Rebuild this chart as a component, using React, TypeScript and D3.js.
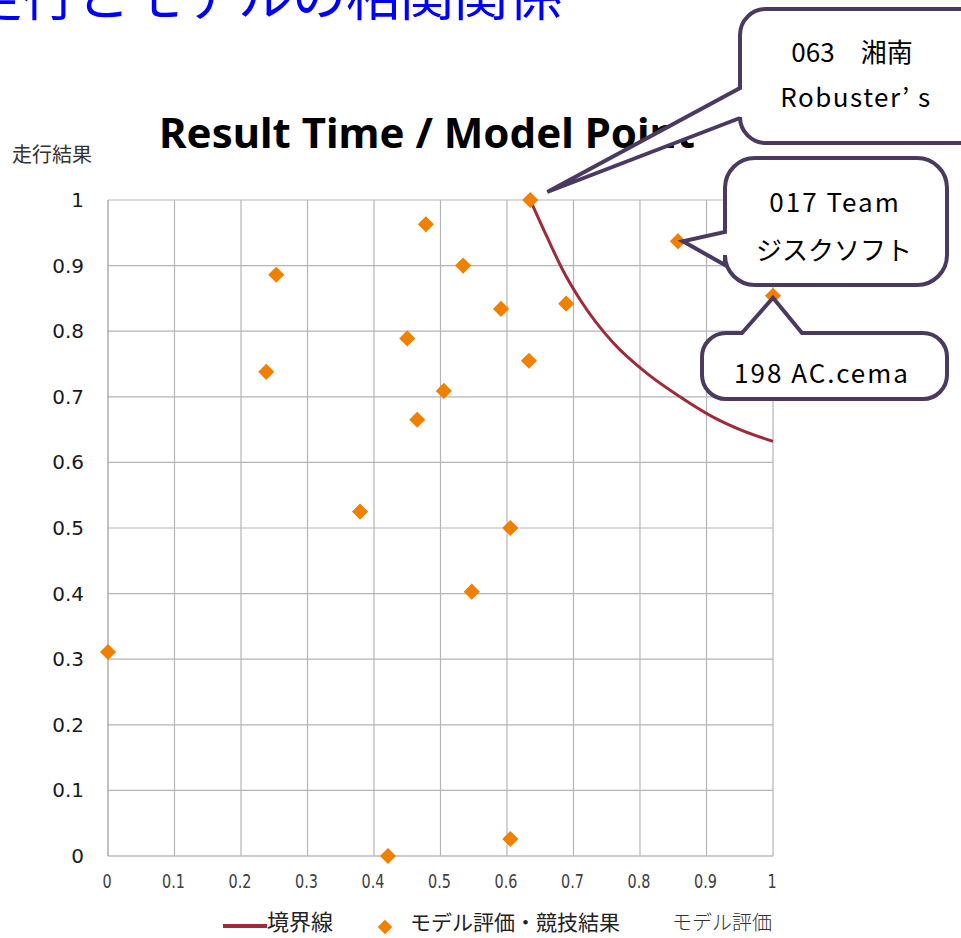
import * as d3 from "d3";

// scatter: model score (x) vs run result (y)
const modelScore = [0.635, 0.478, 0.534, 0.253, 0.591, 0.689, 0.857, 1.0, 0.45, 0.633, 0.238, 0.505, 0.465, 0.379, 0.605, 0.547, 0.0, 0.605, 0.421];
const runResult = [1.0, 0.963, 0.9, 0.886, 0.834, 0.842, 0.937, 0.854, 0.789, 0.755, 0.738, 0.709, 0.665, 0.525, 0.5, 0.403, 0.311, 0.026, 0.0];

// boundary line
const boundaryX = [0.635, 0.66, 0.684, 0.71, 0.76, 0.81, 0.86, 0.91, 0.955, 1.0];
const boundaryY = [1.0, 0.944, 0.893, 0.848, 0.782, 0.736, 0.7, 0.669, 0.648, 0.632];

const tickValues = [0, 0.1, 0.2, 0.3, 0.4, 0.5, 0.6, 0.7, 0.8, 0.9, 1];

const callouts = [
  { lines: ["063\u3000湘南", "Robuster\u2019 s"], point: 0 },
  { lines: ["017 Team", "ジスクソフト"], point: 6 },
  { lines: ["198 AC.cema"], point: 7 },
];

const width = 961;
const height = 938;
const x = d3.scaleLinear().domain([0, 1]).range([108, 773]);
const y = d3.scaleLinear().domain([0, 1]).range([856, 200]);

const orange = "#F08000";
const red = "#9E2A3A";
const purple = "#4A3960";
const cjk = "'Noto Sans CJK JP', sans-serif";

// rounded box with a wedge on the left or top side
function bubble(x0, y0, x1, y1, r, side, a, b, tx, ty) {
  let p = `M${x0 + r},${y0}`;
  if (side === "top") p += ` H${a} L${tx},${ty} L${b},${y0}`;
  p += ` H${x1 - r} A${r},${r} 0 0 1 ${x1},${y0 + r} V${y1 - r} A${r},${r} 0 0 1 ${x1 - r},${y1}`;
  p += ` H${x0 + r} A${r},${r} 0 0 1 ${x0},${y1 - r}`;
  if (side === "left") p += ` V${b} L${tx},${ty} L${x0},${a}`;
  p += ` V${y0 + r} A${r},${r} 0 0 1 ${x0 + r},${y0} Z`;
  return p;
}

export default function App() {
  const points = modelScore.map((m, i) => [m, runResult[i]]);
  const line = d3
    .line()
    .x((d) => x(d[0]))
    .y((d) => y(d[1]))
    .curve(d3.curveMonotoneX);
  const boundary = boundaryX.map((v, i) => [v, boundaryY[i]]);
  const diamond = d3.symbol(d3.symbolSquare, 130)();
  const diamondSmall = d3.symbol(d3.symbolSquare, 105)();

  const p0 = points[callouts[0].point];
  const p1 = points[callouts[1].point];
  const p2 = points[callouts[2].point];

  return (
    <svg width={width} height={height} style={{ position: "absolute", left: 0, top: 0, background: "#fff" }}>
      <text x={-32} y={16} fontFamily={cjk} fontSize={54} fill="#0000FF">
        走行とモデルの相関関係
      </text>

      <text x={159} y={148} fontFamily="'Noto Sans', sans-serif" fontWeight="bold" fontSize={42} fill="#000">
        Result Time / Model Point
      </text>

      {/* grid */}
      <g>
        {tickValues.map((t) => (
          <line key={"h" + t} x1={x(0)} x2={x(1)} y1={y(t)} y2={y(t)} stroke={t === 0 ? "#999" : "#b5b5b5"} strokeWidth={1.2} />
        ))}
        {tickValues.map((t) => (
          <line key={"v" + t} x1={x(t)} x2={x(t)} y1={y(1)} y2={y(0)} stroke={t === 0 ? "#999" : "#b5b5b5"} strokeWidth={1.2} />
        ))}
      </g>

      {/* y ticks */}
      {tickValues.map((t) => (
        <text key={"yl" + t} x={84} y={y(t) + 7} textAnchor="end" fontFamily="'DejaVu Sans', sans-serif" fontSize={20} fill="#1a1a1a">
          {d3.format("")(t)}
        </text>
      ))}
      {/* x ticks */}
      {tickValues.map((t) => (
        <text
          key={"xl" + t}
          transform={`translate(${x(t) - 1},888) scale(0.72,1)`}
          textAnchor="middle"
          fontFamily="'DejaVu Sans', sans-serif"
          fontSize={20}
          fill="#404040"
        >
          {d3.format("")(t)}
        </text>
      ))}

      <text x={12} y={162} fontFamily={cjk} fontSize={20} fill="#333">
        走行結果
      </text>
      <text x={672} y={930} fontFamily={cjk} fontWeight={300} fontSize={20} fill="#333">
        モデル評価
      </text>

      <path d={line(boundary)} fill="none" stroke={red} strokeWidth={3} />

      {points.map((d, i) => (
        <path key={i} d={diamond} transform={`translate(${x(d[0])},${y(d[1])}) rotate(45)`} fill={orange} />
      ))}

      {/* callouts */}
      <g fill="#fff" stroke={purple} strokeWidth={4} strokeLinejoin="miter">
        <path d={bubble(740, 9, 995, 143, 26, "left", 88, 118, x(p0[0]) + 17, y(p0[1]) - 8)} />
        <path d={bubble(725, 158, 947, 285, 30, "left", 232, 265, x(p1[0]) + 5, y(p1[1]))} />
        <path d={bubble(702, 333, 947, 399, 24, "top", 742, 802, x(p2[0]), y(p2[1]) + 2)} />
      </g>
      <g fontFamily={cjk} fontSize={26} fill="#000" textAnchor="middle">
        <text x={852} y={62}>{callouts[0].lines[0]}</text>
        <text x={856} y={107} letterSpacing={1.5}>{callouts[0].lines[1]}</text>
        <text x={835} y={212} letterSpacing={2}>{callouts[1].lines[0]}</text>
        <text x={834} y={260}>{callouts[1].lines[1]}</text>
        <text x={822} y={383} letterSpacing={2}>{callouts[2].lines[0]}</text>
      </g>

      {/* legend */}
      <line x1={223} x2={267} y1={926} y2={926} stroke={red} strokeWidth={4} />
      <text x={267} y={930} fontFamily={cjk} fontSize={22} fill="#222">
        境界線
      </text>
      <path d={diamondSmall} transform="translate(385,927) rotate(45)" fill={orange} />
      <text x={410} y={930} fontFamily={cjk} fontSize={21} fill="#222">
        モデル評価・競技結果
      </text>
    </svg>
  );
}
